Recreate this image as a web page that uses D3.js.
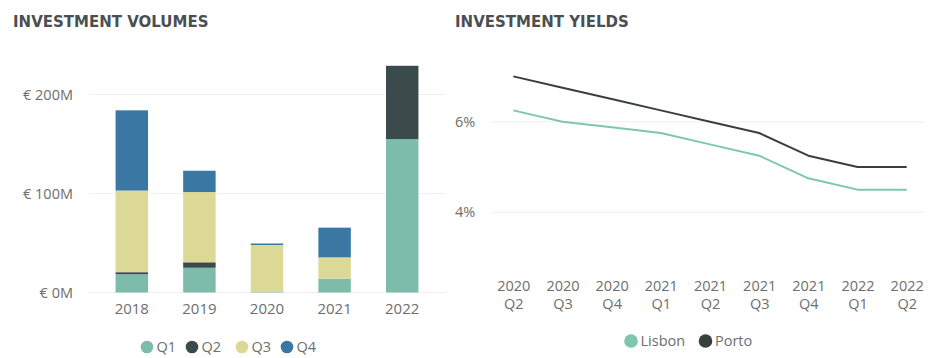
<!DOCTYPE html>
<html>
<head>
<meta charset="utf-8">
<script src="https://cdn.jsdelivr.net/npm/d3@7"></script>
<style>
  html, body { margin: 0; padding: 0; background: #ffffff; }
  svg { display: block; }
  text { font-family: "Open Sans", "Noto Sans", sans-serif; }
  .title { font-family: "DejaVu Sans", sans-serif; font-weight: bold; fill: #4b4f52; }
</style>
</head>
<body>
<svg id="chart" width="930" height="358"></svg>
<script>
// ---- Investment volumes (EUR millions), stacked by quarter ----
const years = ["2018", "2019", "2020", "2021", "2022"];
const quarters = ["Q1", "Q2", "Q3", "Q4"];
const q1Volumes = [18.5, 25, 1, 14, 155];
const q2Volumes = [2, 5.5, 0, 0, 74];
const q3Volumes = [82.5, 71, 47, 21.5, 0];
const q4Volumes = [81, 21.5, 1.5, 30, 0];
const volumeTicks = [0, 100, 200];
const quarterColors = ["#7dbcaa", "#3b4a4b", "#dcd895", "#3a77a3"];

// ---- Investment yields (%), by quarter ----
const periods = ["2020 Q2", "2020 Q3", "2020 Q4", "2021 Q1", "2021 Q2", "2021 Q3", "2021 Q4", "2022 Q1", "2022 Q2"];
const lisbonYield = [6.25, 6.0, 5.875, 5.75, 5.5, 5.25, 4.75, 4.5, 4.5];
const portoYield = [7.0, 6.75, 6.5, 6.25, 6.0, 5.75, 5.25, 5.0, 5.0];
const yieldTicks = [4, 6];
const cityNames = ["Lisbon", "Porto"];
const cityColors = ["#7fc6ae", "#37403f"];

const svg = d3.select("#chart");
const gridColor = "#f0f0f0";
const labelColor = "#6e6e6e";
const labelSize = 14.5;

// ================= Left panel: stacked bars =================
svg.append("text").attr("class", "title")
  .attr("x", 13).attr("y", 27).attr("font-size", 15)
  .text("INVESTMENT VOLUMES");

const volumeRows = years.map((y, i) => ({
  year: y, Q1: q1Volumes[i], Q2: q2Volumes[i], Q3: q3Volumes[i], Q4: q4Volumes[i]
}));
const stacked = d3.stack().keys(quarters)(volumeRows);

const xBand = d3.scaleBand().domain(years).range([98, 436]).paddingInner(0.52).paddingOuter(0.26);
const yVol = d3.scaleLinear().domain([0, 200]).range([292.5, 94.5]);

const left = svg.append("g");
left.append("g").selectAll("line").data(volumeTicks).join("line")
  .attr("x1", 89).attr("x2", 446)
  .attr("y1", d => yVol(d)).attr("y2", d => yVol(d))
  .attr("stroke", gridColor).attr("stroke-width", 1);

const yAxisL = d3.axisLeft(yVol).tickValues(volumeTicks).tickSize(0).tickPadding(0)
  .tickFormat(d => "€ " + d + "M");
const gyl = left.append("g").attr("transform", "translate(73,0)").call(yAxisL);
gyl.select(".domain").remove();
gyl.selectAll("text").attr("fill", labelColor).attr("font-size", labelSize)
  .attr("font-family", "'Open Sans', sans-serif");

left.append("g").selectAll("g").data(stacked).join("g")
  .attr("fill", (d, i) => quarterColors[i])
  .selectAll("rect").data(d => d).join("rect")
  .attr("x", d => xBand(d.data.year))
  .attr("width", xBand.bandwidth())
  .attr("y", d => yVol(d[1]))
  .attr("height", d => Math.max(0, yVol(d[0]) - yVol(d[1])));

const xAxisL = d3.axisBottom(xBand).tickSize(0).tickPadding(0);
const gxl = left.append("g").attr("transform", "translate(0,303)").call(xAxisL);
gxl.select(".domain").remove();
gxl.selectAll("text").attr("fill", labelColor).attr("font-size", 15)
  .attr("font-family", "'Open Sans', sans-serif").attr("dy", "0.71em");

// legend
const legL = left.append("g").attr("transform", "translate(0,347)");
const legLX = [147, 192, 242, 287];
quarters.forEach((q, i) => {
  legL.append("circle").attr("cx", legLX[i]).attr("cy", 0).attr("r", 6.3).attr("fill", quarterColors[i]);
  legL.append("text").attr("x", legLX[i] + 9.5).attr("y", 0).attr("dy", "0.35em")
    .attr("font-size", labelSize).attr("fill", labelColor).text(q);
});

// ================= Right panel: yield lines =================
svg.append("text").attr("class", "title")
  .attr("x", 455).attr("y", 27).attr("font-size", 15)
  .text("INVESTMENT YIELDS");

const xPt = d3.scalePoint().domain(periods).range([513.3, 906.7]);
const yYld = d3.scaleLinear().domain([4, 6]).range([212.3, 121.7]);

const right = svg.append("g");
right.append("g").selectAll("line").data(yieldTicks).join("line")
  .attr("x1", 492).attr("x2", 925)
  .attr("y1", d => yYld(d)).attr("y2", d => yYld(d))
  .attr("stroke", gridColor).attr("stroke-width", 1);

const yAxisR = d3.axisLeft(yYld).tickValues(yieldTicks).tickSize(0).tickPadding(0)
  .tickFormat(d => d + "%");
const gyr = right.append("g").attr("transform", "translate(455,0)").call(yAxisR);
gyr.select(".domain").remove();
gyr.selectAll("text").attr("text-anchor", "start").attr("fill", labelColor)
  .attr("font-size", labelSize).attr("font-family", "'Open Sans', sans-serif");

const line = d3.line().x((d, i) => xPt(periods[i])).y(d => yYld(d));
[lisbonYield, portoYield].forEach((series, k) => {
  right.append("path").datum(series)
    .attr("fill", "none").attr("stroke", cityColors[k]).attr("stroke-width", 2)
    .attr("stroke-linejoin", "round")
    .attr("d", line);
});

// two-line period labels: year on top, quarter below
const xAxisR = d3.axisBottom(xPt).tickSize(0).tickPadding(0).tickFormat(() => "");
const gxr = right.append("g").call(xAxisR);
gxr.select(".domain").remove();
gxr.selectAll(".tick").each(function (d) {
  const parts = d.split(" ");
  const tick = d3.select(this);
  tick.select("text").remove();
  parts.forEach((p, j) => {
    tick.append("text")
      .attr("x", 0).attr("y", 286 + j * 18).attr("dy", "0.35em")
      .attr("text-anchor", "middle")
      .attr("fill", labelColor).attr("font-size", 14.5)
      .attr("font-family", "'Open Sans', sans-serif")
      .text(p);
  });
});

// legend
const legR = right.append("g").attr("transform", "translate(0,341)");
const legRX = [631, 705.5];
cityNames.forEach((c, i) => {
  legR.append("circle").attr("cx", legRX[i]).attr("cy", 0).attr("r", 6.8).attr("fill", cityColors[i]);
  legR.append("text").attr("x", legRX[i] + 9.5).attr("y", 0).attr("dy", "0.35em")
    .attr("font-size", labelSize).attr("fill", labelColor).text(c);
});
</script>
</body>
</html>
